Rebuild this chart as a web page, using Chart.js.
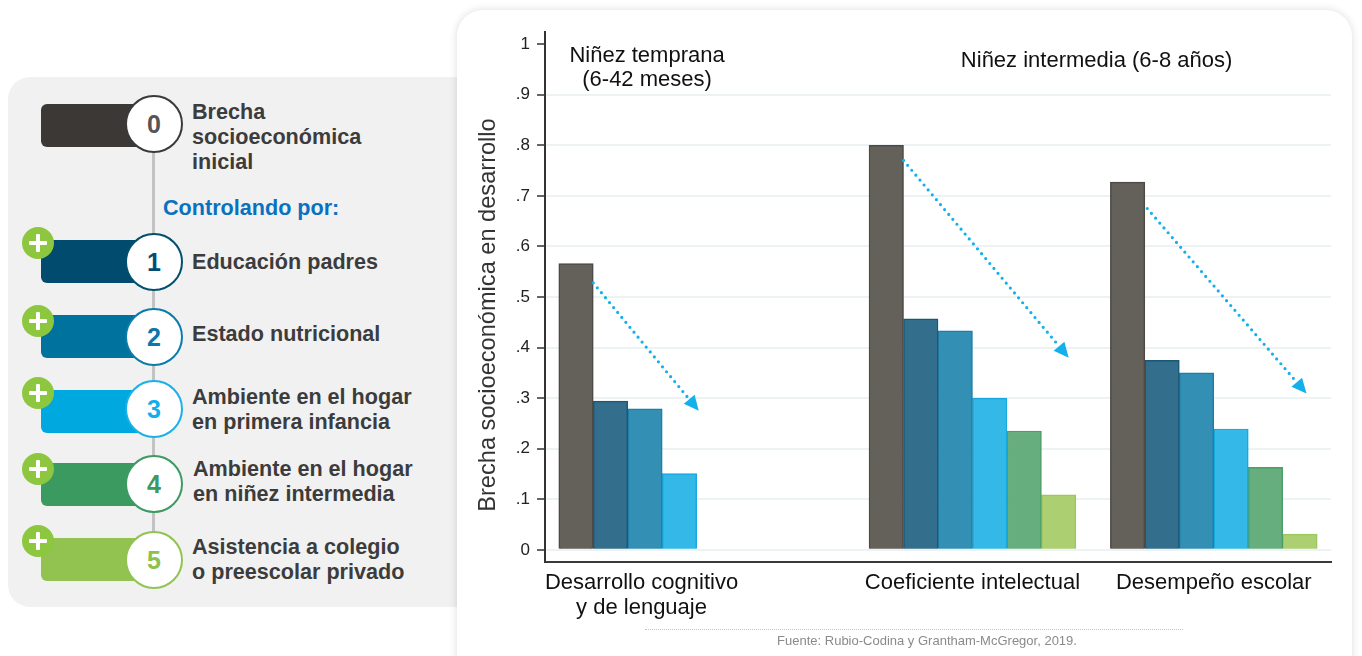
<!DOCTYPE html>
<html lang="es">
<head>
<meta charset="utf-8">
<title>Brecha socioeconómica en desarrollo</title>
<script src="https://cdn.jsdelivr.net/npm/chart.js@4.4.1/dist/chart.umd.min.js"></script>
<style>
  html, body { margin: 0; padding: 0; width: 1362px; height: 656px; overflow: hidden; background: #ffffff; font-family: "Liberation Sans", Arial, sans-serif; }
  .panel { position: absolute; left: 8px; top: 77px; width: 470px; height: 530px; background: #f1f1f1; border-radius: 22px 0 0 22px; }
  .vline { position: absolute; left: 152px; top: 150px; width: 3px; height: 410px; background: #c3c3c3; }
  .bar { position: absolute; left: 41px; width: 112px; height: 43px; border-radius: 6px; }
  .circle { position: absolute; left: 125px; width: 58px; height: 58px; box-sizing: border-box; border-radius: 50%; background: #fff; border: 2px solid; display: flex; align-items: center; justify-content: center; font-weight: bold; font-size: 25px; }
  .plus { position: absolute; left: 22px; width: 32px; height: 32px; border-radius: 50%; background: #8dc63f; }
  .plus::before, .plus::after { content: ""; position: absolute; background: #fff; border-radius: 1px; }
  .plus::before { left: 7px; top: 14px; width: 18px; height: 4px; }
  .plus::after { left: 14px; top: 7px; width: 4px; height: 18px; }
  .label { position: absolute; left: 192px; font-weight: bold; font-size: 21.6px; line-height: 25px; color: #3c3c3c; white-space: nowrap; }
  .ctrl { position: absolute; left: 163px; top: 195px; font-weight: bold; font-size: 21.6px; line-height: 25px; color: #0a70c0; }
  .card { position: absolute; left: 457px; top: 10px; width: 895px; height: 700px; background: #fff; border-radius: 26px; box-shadow: 0 0 9px rgba(0,0,0,0.14); }
  #wrap { position: absolute; left: 457px; top: 10px; width: 895px; height: 646px; }
  .dots { position: absolute; left: 645px; top: 629px; width: 538px; border-top: 1px dotted #c4c4c4; }
  .source { position: absolute; left: 645px; top: 633px; width: 564px; text-align: center; font-size: 13px; color: #8a8a8a; }
</style>
</head>
<body>
<div class="panel"></div>
<div class="vline"></div>

<div class="bar" style="top:104px;background:#3b3835"></div>
<div class="circle" style="top:95px;border-color:#3a3a3a;color:#555">0</div>
<div class="label" style="top:99px">Brecha<br>socioeconómica<br>inicial</div>

<div class="ctrl">Controlando por:</div>

<div class="bar" style="top:240px;background:#004b6e"></div>
<div class="plus" style="top:227px"></div>
<div class="circle" style="top:233px;border-color:#00506f;color:#004e73">1</div>
<div class="label" style="top:249px">Educación padres</div>

<div class="bar" style="top:315px;background:#00729e"></div>
<div class="plus" style="top:305px"></div>
<div class="circle" style="top:308px;border-color:#0a7bab;color:#0a78aa">2</div>
<div class="label" style="top:321px">Estado nutricional</div>

<div class="bar" style="top:390px;background:#00a8e0"></div>
<div class="plus" style="top:377px"></div>
<div class="circle" style="top:380px;border-color:#1ab0ea;color:#15aeea">3</div>
<div class="label" style="top:384px">Ambiente en el hogar<br>en primera infancia</div>

<div class="bar" style="top:463px;background:#3a9a60"></div>
<div class="plus" style="top:453px"></div>
<div class="circle" style="top:455px;border-color:#3c9a62;color:#3b9a5f">4</div>
<div class="label" style="top:456px;left:193px">Ambiente en el hogar<br>en niñez intermedia</div>

<div class="bar" style="top:538px;background:#92c24f"></div>
<div class="plus" style="top:525px"></div>
<div class="circle" style="top:531px;border-color:#90c350;color:#8cc24c">5</div>
<div class="label" style="top:534px">Asistencia a colegio<br>o preescolar privado</div>

<div class="card"></div>
<div id="wrap"><canvas id="chart-bars"></canvas></div>
<div class="dots"></div>
<div class="source">Fuente: Rubio-Codina y Grantham-McGregor, 2019.</div>

<script>
// categories (outcomes)
const groups = [
  ["Desarrollo cognitivo", "y de lenguaje"],
  "Coeficiente intelectual",
  "Desempeño escolar"
];

// series, one value per outcome (null = not estimated)
const seriesNames = [
  "Brecha socioeconómica inicial",
  "Educación padres",
  "Estado nutricional",
  "Ambiente en el hogar en primera infancia",
  "Ambiente en el hogar en niñez intermedia",
  "Asistencia a colegio o preescolar privado"
];
const brechaInicial = [0.566, 0.800, 0.727];
const educacionPadres = [0.294, 0.457, 0.375];
const estadoNutricional = [0.279, 0.433, 0.350];
const hogarPrimeraInfancia = [0.151, 0.300, 0.239];
const hogarNinezIntermedia = [null, 0.235, 0.163];
const asistenciaColegio = [null, 0.109, 0.031];

// y axis tick labels
const yTicks = [0, 0.1, 0.2, 0.3, 0.4, 0.5, 0.6, 0.7, 0.8, 0.9, 1];
const yTickLabels = ["0", ".1", ".2", ".3", ".4", ".5", ".6", ".7", ".8", ".9", "1"];
const yTitle = "Brecha socioeconómica en desarrollo";

// period titles and arrows (group index, x offset inside group, y value)
const periods = [
  { group: 0, x: 2.56, y: [0.977, 0.929], lines: ["Niñez temprana", "(6-42 meses)"] },
  { group: 1, x: 6.6, y: [0.967], lines: ["Niñez intermedia (6-8 años)"] }
];
const arrows = [
  { group: 0, from: [1.0, 0.528], to: [4.06, 0.275] },
  { group: 1, from: [1.0, 0.770], to: [5.79, 0.380] },
  { group: 2, from: [1.07, 0.675], to: [5.69, 0.309] }
];

// layout: each outcome reserves 6 bar slots, with extra empty slots before it
const slotsPerGroup = 6;
const gapBefore = [0, 3, 1];
const labelShift = [-0.6, 0, 0];
const groupStart = [];
gapBefore.forEach((gap, g) => {
  groupStart.push(g === 0 ? gap : groupStart[g - 1] + slotsPerGroup + gap);
});
const lastSlot = groupStart[groupStart.length - 1] + slotsPerGroup;

const fills = ["#64605a", "#336f8c", "#338fb3", "#33b8e7", "#66ae7e", "#accf72"];
const borders = ["#4d4a46", "#1b5876", "#1f7ea6", "#17a9df", "#4c9d67", "#9cc65e"];

const seriesValues = [brechaInicial, educacionPadres, estadoNutricional,
  hogarPrimeraInfancia, hogarNinezIntermedia, asistenciaColegio];

const datasets = seriesValues.map((vals, k) => ({
  label: seriesNames[k],
  data: vals
    .map((v, g) => (v === null ? null : { x: groupStart[g] + k + 0.5, y: v }))
    .filter((p) => p !== null),
  backgroundColor: fills[k],
  borderColor: borders[k],
  borderWidth: 1.5,
  grouped: false,
  barPercentage: 1,
  categoryPercentage: 1
}));

const FONT = "Liberation Sans, Arial, sans-serif";

const annotations = {
  id: "annotations",
  afterDatasetsDraw(chart) {
    const { ctx, scales: { x, y }, chartArea } = chart;
    ctx.save();

    // dotted arrows
    arrows.forEach((a) => {
      const x0 = x.getPixelForValue(groupStart[a.group] + a.from[0]);
      const y0 = y.getPixelForValue(a.from[1]);
      const x1 = x.getPixelForValue(groupStart[a.group] + a.to[0]);
      const y1 = y.getPixelForValue(a.to[1]);
      const ang = Math.atan2(y1 - y0, x1 - x0);
      const head = 15;
      const bx = x1 - head * Math.cos(ang);
      const by = y1 - head * Math.sin(ang);
      ctx.strokeStyle = "#14b0ec";
      ctx.fillStyle = "#14b0ec";
      ctx.lineWidth = 3.2;
      ctx.lineCap = "round";
      ctx.setLineDash([0, 6.4]);
      ctx.beginPath();
      ctx.moveTo(x0, y0);
      ctx.lineTo(bx, by);
      ctx.stroke();
      ctx.setLineDash([]);
      ctx.beginPath();
      ctx.moveTo(x1, y1);
      ctx.lineTo(bx + 7 * Math.sin(ang), by - 7 * Math.cos(ang));
      ctx.lineTo(bx - 7 * Math.sin(ang), by + 7 * Math.cos(ang));
      ctx.closePath();
      ctx.fill();
    });

    // period titles
    ctx.fillStyle = "#111";
    ctx.font = "22px " + FONT;
    ctx.textAlign = "center";
    ctx.textBaseline = "middle";
    periods.forEach((p) => {
      const px = x.getPixelForValue(groupStart[p.group] + p.x);
      p.lines.forEach((line, i) => {
        ctx.fillText(line, px, y.getPixelForValue(p.y[i]));
      });
    });

    // y axis title, centred a little below the middle of the axis
    ctx.fillStyle = "#333";
    ctx.font = "23.6px " + FONT;
    ctx.translate(y.left + 31, (chartArea.top + chartArea.bottom) / 2 + 18);
    ctx.rotate(-Math.PI / 2);
    ctx.fillText(yTitle, 0, 0);
    ctx.restore();
  }
};

new Chart(document.getElementById("chart-bars"), {
  type: "bar",
  data: { datasets: datasets },
  plugins: [annotations],
  options: {
    responsive: true,
    maintainAspectRatio: false,
    animation: false,
    layout: { padding: { top: 22, right: 21, left: 0, bottom: 0 } },
    plugins: {
      legend: { display: false },
      tooltip: { enabled: false }
    },
    scales: {
      x: {
        type: "linear",
        offset: false,
        min: -0.4,
        max: lastSlot + 0.4,
        afterBuildTicks: (axis) => {
          axis.ticks = groupStart.map((s, g) => ({ value: s + slotsPerGroup / 2 + labelShift[g] }));
        },
        afterFit: (axis) => { axis.height = 94; },
        grid: { display: false, drawTicks: false, offset: false },
        border: { display: true, color: "#3a3a3a", width: 2 },
        ticks: {
          autoSkip: false,
          maxRotation: 0,
          padding: 8,
          color: "#111",
          font: { size: 22, family: FONT, lineHeight: 1.15 },
          callback: (value, index) => groups[index]
        }
      },
      y: {
        min: -0.024,
        max: 1.024,
        afterBuildTicks: (axis) => {
          axis.ticks = yTicks.map((v) => ({ value: v }));
        },
        afterFit: (axis) => { axis.width = 88; },
        grid: {
          color: (c) => (c.tick && c.tick.value === 1 ? "rgba(0,0,0,0)" : "#edf2f5"),
          lineWidth: 2,
          drawTicks: true,
          tickLength: 8,
          tickColor: "#333",
          tickWidth: 1.5
        },
        border: { display: true, color: "#333", width: 2 },
        title: { display: false },
        ticks: {
          padding: 7,
          color: "#222",
          font: { size: 17, family: FONT },
          callback: (value, index) => yTickLabels[index]
        }
      }
    }
  }
});
</script>
</body>
</html>
